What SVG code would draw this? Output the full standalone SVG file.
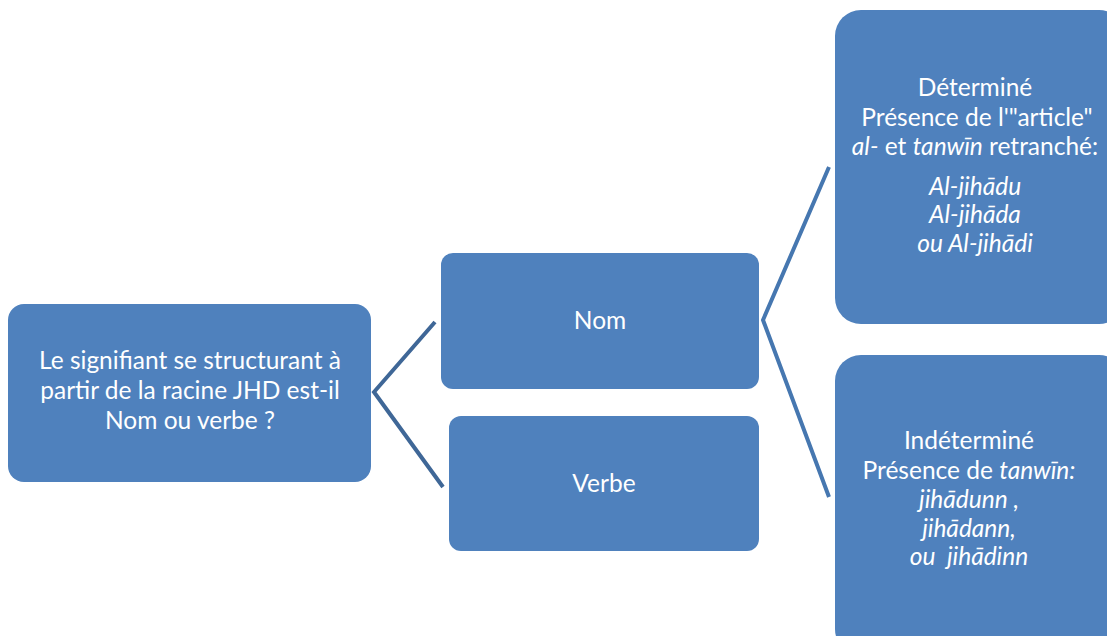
<svg xmlns="http://www.w3.org/2000/svg" width="1107" height="636" viewBox="0 0 1107 636">
<style>
.box{fill:#4f81bd;}
.t{font-family:Lato,"Open Sans","Liberation Sans",sans-serif;font-size:24.5px;fill:#ffffff;text-anchor:middle;white-space:pre;}
.i{font-style:italic;}
.c{fill:none;stroke:#3f6797;stroke-width:4;stroke-linejoin:miter;}
.c2{stroke:#4677b0;}
</style>
<rect width="1107" height="636" fill="#ffffff"/>
<g id="connectors">
<polyline class="c" points="435,322 374,392 443,487"/>
<polyline class="c c2" points="829,167 763,320 829,497"/>
</g>
<g id="root">
<rect class="box" x="8" y="304" width="363" height="178" rx="16"/>
<text class="t" x="190" y="369">Le signifiant se structurant à</text>
<text class="t" x="190" y="399">partir de la racine JHD est-il</text>
<text class="t" x="190" y="429">Nom ou verbe ?</text>
</g>
<g id="nom">
<rect class="box" x="441" y="253" width="318" height="136" rx="12"/>
<text class="t" x="600" y="329">Nom</text>
</g>
<g id="verbe">
<rect class="box" x="449" y="416" width="310" height="135" rx="12"/>
<text class="t" x="604" y="492">Verbe</text>
</g>
<g id="determine">
<rect class="box" x="835" y="10" width="290" height="314" rx="26"/>
<text class="t" x="975" y="96">Déterminé</text>
<text class="t" x="977" y="126">Présence de l'"article"</text>
<text class="t" x="975" y="155"><tspan class="i">al-</tspan> et <tspan class="i">tanwīn</tspan> retranché:</text>
<text class="t i" x="975" y="195">Al-jihādu</text>
<text class="t i" x="975" y="223">Al-jihāda</text>
<text class="t i" x="975" y="252">ou Al-jihādi</text>
</g>
<g id="indetermine">
<rect class="box" x="835" y="355" width="290" height="300" rx="26"/>
<text class="t" x="969" y="449">Indéterminé</text>
<text class="t" x="969" y="479">Présence de <tspan class="i">tanwīn:</tspan></text>
<text class="t i" x="969" y="508">jihādunn ,</text>
<text class="t i" x="969" y="537">jihādann,</text>
<text class="t i" x="969" y="565">ou  jihādinn</text>
</g>
</svg>
